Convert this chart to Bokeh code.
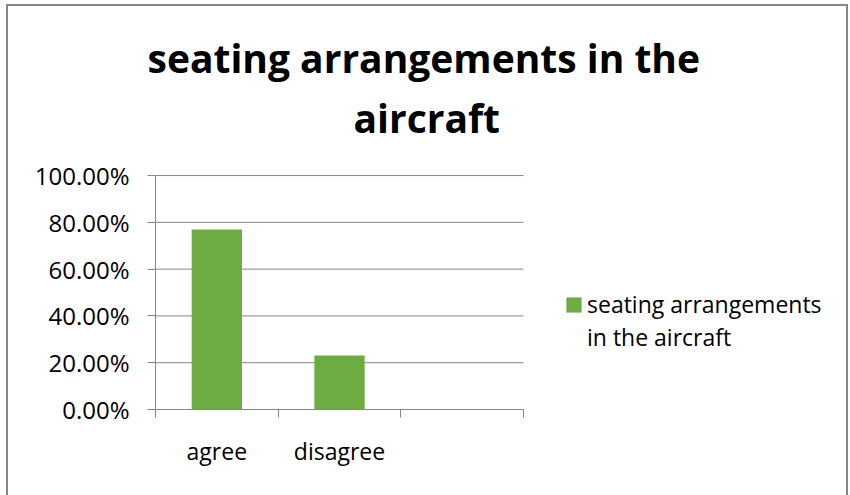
from bokeh.plotting import figure
from bokeh.models import (Range1d, FixedTicker, NumeralTickFormatter, Legend,
                          LegendItem, ColumnDataSource, Title)
from bokeh.embed import file_html
from bokeh.resources import INLINE

# ---- data ----
title_lines = ["seating arrangements in the", "aircraft"]
series_lines = ["seating arrangements", "in the aircraft"]
categories = ["agree", "disagree", ""]
values = [0.769, 0.231]
y_ticks = [0.0, 0.2, 0.4, 0.6, 0.8, 1.0]

# ---- style ----
FONT = "Open Sans"
GRAY = "#868686"
GREEN = "#6DAC43"
TXT = "#000000"

n = len(categories)
x_pos = [i + 0.5 for i in range(len(values))]
src = ColumnDataSource(dict(x=x_pos, top=values, cat=categories[:len(values)]))

# the frame is wider/taller than the drawn axes so that the legend sits inside it
p = figure(width=842, height=491, output_backend="svg", toolbar_location=None,
           x_range=Range1d(0, 5.584), y_range=Range1d(0, 1.137),
           min_border_left=147, min_border_right=10,
           min_border_bottom=88, min_border_top=137,
           background_fill_color="white", border_fill_color="white")
p.styles = {"border-left": f"2px solid {GRAY}", "border-top": f"2px solid {GRAY}",
            "border-right": f"2px solid {GRAY}", "margin-left": "6px",
            "margin-top": "4px"}
p.outline_line_color = None

# title (two lines, centred on the whole chart)
p.title.text = title_lines[0]
p.title.align = "left"
p.title.offset = -8
p.title.text_font = FONT
p.title.text_font_size = "39px"
p.title.text_font_style = "bold"
p.title.text_color = TXT
p.title.standoff = 10
t2 = Title(text=title_lines[1], align="left", offset=198, text_font=FONT,
           text_font_size="39px", text_font_style="bold", text_color=TXT, standoff=0)
p.add_layout(t2, "above")

# horizontal gridlines across the category area only
p.segment(x0=0, x1=n, y0=y_ticks, y1=y_ticks, line_color=GRAY, line_width=1)

r = p.vbar(x="x", top="top", width=0.41, source=src, fill_color=GREEN, line_color=None)

# y axis
p.yaxis.ticker = FixedTicker(ticks=y_ticks)
p.yaxis.bounds = (y_ticks[0], y_ticks[-1])
p.yaxis.formatter = NumeralTickFormatter(format="0.00%")
p.yaxis.axis_line_color = GRAY
p.yaxis.major_tick_line_color = GRAY
p.yaxis.major_tick_out = 8
p.yaxis.major_tick_in = 0
p.yaxis.minor_tick_line_color = None
p.yaxis.major_label_standoff = 18
p.yaxis.major_label_text_font = FONT
p.yaxis.major_label_text_font_size = "24px"
p.yaxis.major_label_text_color = TXT
p.ygrid.grid_line_color = None
p.xgrid.grid_line_color = None

# x axis: labels at category centres, ticks at category boundaries
p.xaxis.ticker = FixedTicker(ticks=[i + 0.5 for i in range(n)],
                             minor_ticks=list(range(n + 1)))
p.xaxis.bounds = (0, n)
p.xaxis.major_label_overrides = {i + 0.5: c for i, c in enumerate(categories)}
p.xaxis.axis_line_color = GRAY
p.xaxis.major_tick_line_color = None
p.xaxis.major_tick_out = 0
p.xaxis.major_tick_in = 0
p.xaxis.minor_tick_line_color = GRAY
p.xaxis.minor_tick_out = 8
p.xaxis.minor_tick_in = 0
p.xaxis.major_label_standoff = 17
p.xaxis.major_label_text_font = FONT
p.xaxis.major_label_text_font_size = "23px"
p.xaxis.major_label_text_color = TXT

# legend: series name wrapped over two lines, swatch beside the first line
legend = Legend(items=[LegendItem(label=series_lines[0], renderers=[r]),
                       LegendItem(label=series_lines[1], renderers=[])],
                location=(409, 56), glyph_width=19, glyph_height=19, spacing=1,
                label_standoff=4, padding=0, margin=0, border_line_color=None,
                background_fill_alpha=0, label_text_font=FONT,
                label_text_font_size="23px", label_text_color=TXT)
p.add_layout(legend, "center")

open("out.html", "w").write(file_html(p, INLINE))
